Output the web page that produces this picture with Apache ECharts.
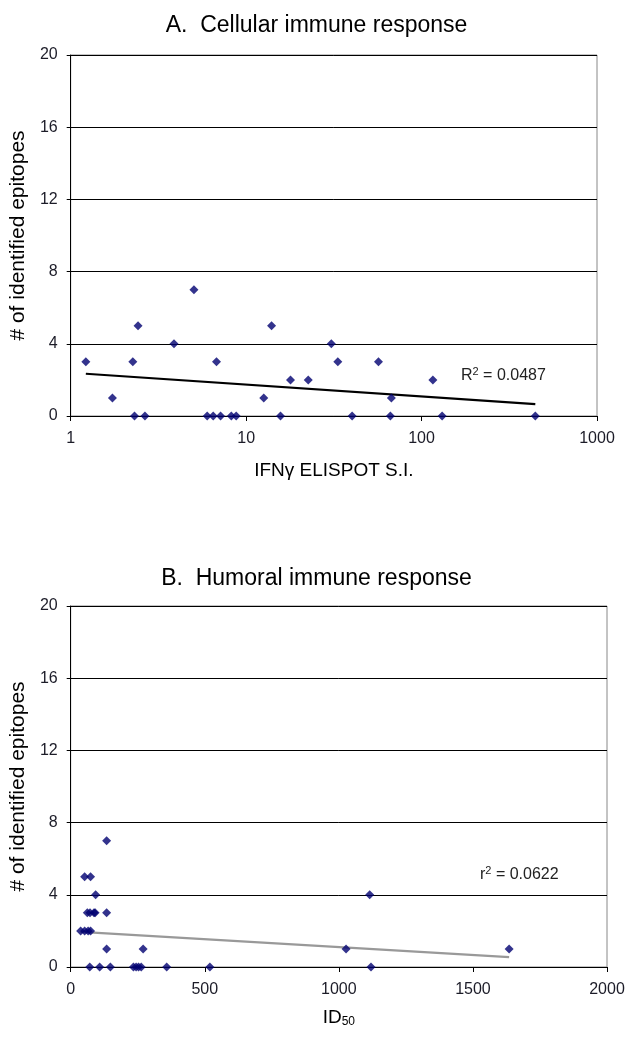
<!DOCTYPE html>
<html>
<head>
<meta charset="utf-8">
<script src="https://cdn.jsdelivr.net/npm/echarts@6/dist/echarts.min.js"></script>
<style>
  html, body { margin: 0; padding: 0; background: #fff; }
  #chart { width: 633px; height: 1050px; }
</style>
</head>
<body>
<div id="chart"></div>
<script>
// A. cellular response: IFNg ELISPOT S.I. vs number of epitopes
const cellularSI = [1.22, 1.73, 2.26, 2.31, 2.42, 2.65, 3.88, 5.04, 6.0, 6.49, 6.78, 7.15, 8.23, 8.78,
  12.6, 13.96, 15.7, 17.9, 22.6, 30.6, 33.3, 40.2, 56.8, 66.4, 67.3, 116, 131, 445];
const cellularEpitopes = [3, 1, 3, 0, 5, 0, 4, 7, 0, 0, 3, 0, 0, 0,
  1, 5, 0, 2, 2, 4, 3, 0, 3, 0, 1, 2, 0, 0];
const cellularTrend = [[1.22, 2.34], [445, 0.66]];

// B. humoral response: ID50 vs number of epitopes
const humoralID50 = [37, 52, 65, 74, 52, 74, 62, 72, 87, 93, 91, 71, 108, 134, 134, 134, 148,
  234, 244, 253, 263, 270, 358, 519, 1027, 1115, 1120, 1635];
const humoralEpitopes = [2, 2, 2, 2, 5, 5, 3, 3, 3, 4, 3, 0, 0, 7, 3, 1, 0,
  0, 0, 0, 0, 1, 0, 0, 1, 4, 0, 1];
const humoralTrend = [[37, 1.95], [1635, 0.55]];

const yTicks = [0, 4, 8, 12, 16, 20];

const font = 'Liberation Sans, Arial, sans-serif';
const labelColor = '#1c1c28';
const pairs = (xs, ys) => xs.map((x, i) => [x, ys[i]]);

function yAxis(gridIndex) {
  return {
    gridIndex,
    type: 'value',
    min: yTicks[0],
    max: yTicks[yTicks.length - 1],
    interval: 4,
    name: '# of identified epitopes',
    nameLocation: 'middle',
    nameGap: 38,
    nameTextStyle: { fontFamily: font, fontSize: 21, color: '#000' },
    axisLine: { show: true, lineStyle: { color: '#000', width: 1 } },
    axisTick: { show: true, length: 4, lineStyle: { color: '#000' } },
    axisLabel: { fontFamily: font, fontSize: 16, color: labelColor, margin: 13 },
    splitLine: { show: true, lineStyle: { color: '#000', width: 1 } }
  };
}

const xLabel = { fontFamily: font, fontSize: 16, color: labelColor, margin: 15, formatter: v => String(v) };

const chart = echarts.init(document.getElementById('chart'));
chart.setOption({
  animation: false,
  backgroundColor: '#fff',
  title: [
    { text: 'A.  Cellular immune response', left: 'center', top: 9,
      textStyle: { fontFamily: font, fontSize: 23, fontWeight: 'normal', color: '#000' } },
    { text: 'B.  Humoral immune response', left: 'center', top: 562,
      textStyle: { fontFamily: font, fontSize: 23, fontWeight: 'normal', color: '#000' } }
  ],
  grid: [
    { left: 70, top: 55, width: 527, height: 361, show: true, borderColor: '#888', borderWidth: 1 },
    { left: 70, top: 606, width: 537, height: 361, show: true, borderColor: '#888', borderWidth: 1 }
  ],
  xAxis: [
    {
      gridIndex: 0,
      type: 'log',
      logBase: 10,
      min: 1,
      max: 1000,
      name: 'IFNγ ELISPOT S.I.',
      nameLocation: 'middle',
      nameGap: 45,
      nameTextStyle: { fontFamily: font, fontSize: 19, color: '#000' },
      axisLine: { show: true, lineStyle: { color: '#000' } },
      axisTick: { show: true, length: 5, lineStyle: { color: '#000' } },
      minorTick: { show: false },
      axisLabel: xLabel,
      splitLine: { show: false }
    },
    {
      gridIndex: 1,
      type: 'value',
      min: 0,
      max: 2000,
      interval: 500,
      name: 'ID{sub|50}',
      nameLocation: 'middle',
      nameGap: 40,
      nameTextStyle: {
        fontFamily: font, fontSize: 19, color: '#000',
        rich: { sub: { fontFamily: font, fontSize: 12, color: '#000', verticalAlign: 'bottom', padding: [9, 0, 0, 0] } }
      },
      axisLine: { show: true, lineStyle: { color: '#000' } },
      axisTick: { show: true, length: 5, lineStyle: { color: '#000' } },
      axisLabel: xLabel,
      splitLine: { show: false }
    }
  ],
  yAxis: [yAxis(0), yAxis(1)],
  series: [
    {
      type: 'line', xAxisIndex: 0, yAxisIndex: 0,
      data: cellularTrend, symbol: 'none',
      lineStyle: { color: '#000', width: 2.2 }, z: 3
    },
    {
      type: 'scatter', xAxisIndex: 0, yAxisIndex: 0,
      data: pairs(cellularSI, cellularEpitopes),
      symbol: 'diamond', symbolSize: [9, 9],
      itemStyle: { color: '#000070' }, z: 4
    },
    {
      type: 'line', xAxisIndex: 1, yAxisIndex: 1,
      data: humoralTrend, symbol: 'none',
      lineStyle: { color: '#999', width: 2.2 }, z: 3
    },
    {
      type: 'scatter', xAxisIndex: 1, yAxisIndex: 1,
      data: pairs(humoralID50, humoralEpitopes),
      symbol: 'diamond', symbolSize: [9, 9],
      itemStyle: { color: '#000070' }, z: 4
    }
  ],
  graphic: [
    {
      type: 'text', left: 461, top: 366,
      style: {
        text: 'R{sup|2} = 0.0487',
        fontFamily: font, fontSize: 16, fill: '#222',
        rich: { sup: { fontFamily: font, fontSize: 11, fill: '#222', verticalAlign: 'top', padding: [0, 0, 8, 0] } }
      }
    },
    {
      type: 'text', left: 480, top: 865,
      style: {
        text: 'r{sup|2} = 0.0622',
        fontFamily: font, fontSize: 16, fill: '#222',
        rich: { sup: { fontFamily: font, fontSize: 11, fill: '#222', verticalAlign: 'top', padding: [0, 0, 8, 0] } }
      }
    }
  ]
});
</script>
</body>
</html>
